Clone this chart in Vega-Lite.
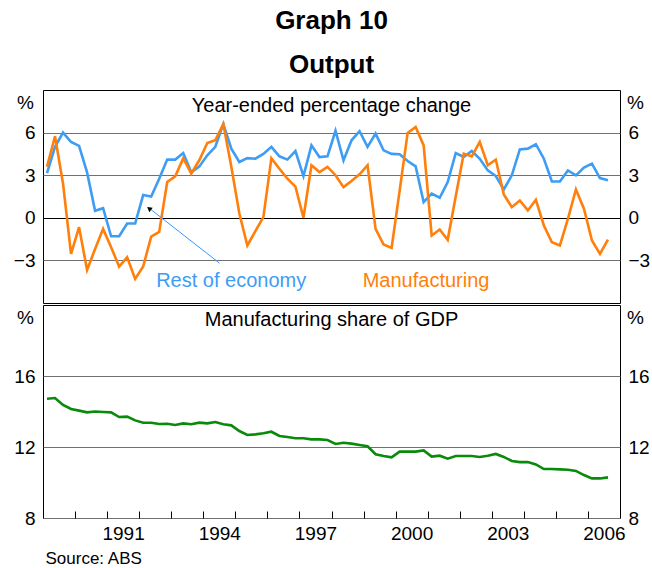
{
  "$schema": "https://vega.github.io/schema/vega-lite/v6.json",
  "padding": {"left": 12, "top": 7, "right": 5, "bottom": 0},
  "background": "white",
  "title": {
    "text": ["Graph 10", "Output"],
    "fontSize": 26,
    "fontWeight": "bold",
    "font": "Liberation Sans",
    "color": "black",
    "lineHeight": 44,
    "anchor": "middle",
    "offset": 12
  },
  "datasets": {
    "quarters": [
      {"date": 1989.125, "rest": 3.15, "manu": 3.6, "share": 14.72},
      {"date": 1989.375, "rest": 5.0, "manu": 5.74, "share": 14.76},
      {"date": 1989.625, "rest": 6.0, "manu": 2.4, "share": 14.37},
      {"date": 1989.875, "rest": 5.34, "manu": -2.54, "share": 14.14},
      {"date": 1990.125, "rest": 5.06, "manu": -0.66, "share": 14.05},
      {"date": 1990.375, "rest": 3.2, "manu": -3.67, "share": 13.95},
      {"date": 1990.625, "rest": 0.5, "manu": -2.2, "share": 14.0},
      {"date": 1990.875, "rest": 0.68, "manu": -0.78, "share": 13.97},
      {"date": 1991.125, "rest": -1.3, "manu": -2.07, "share": 13.95},
      {"date": 1991.375, "rest": -1.3, "manu": -3.43, "share": 13.69},
      {"date": 1991.625, "rest": -0.4, "manu": -2.78, "share": 13.71},
      {"date": 1991.875, "rest": -0.4, "manu": -4.3, "share": 13.5},
      {"date": 1992.125, "rest": 1.6, "manu": -3.43, "share": 13.37},
      {"date": 1992.375, "rest": 1.5, "manu": -1.32, "share": 13.37},
      {"date": 1992.625, "rest": 2.75, "manu": -1.0, "share": 13.3},
      {"date": 1992.875, "rest": 4.1, "manu": 2.52, "share": 13.31},
      {"date": 1993.125, "rest": 4.1, "manu": 2.92, "share": 13.24},
      {"date": 1993.375, "rest": 4.56, "manu": 4.2, "share": 13.33},
      {"date": 1993.625, "rest": 3.2, "manu": 3.12, "share": 13.28},
      {"date": 1993.875, "rest": 3.6, "manu": 4.05, "share": 13.37},
      {"date": 1994.125, "rest": 4.4, "manu": 5.27, "share": 13.33},
      {"date": 1994.375, "rest": 5.0, "manu": 5.46, "share": 13.41},
      {"date": 1994.625, "rest": 6.6, "manu": 6.6, "share": 13.28},
      {"date": 1994.875, "rest": 4.87, "manu": 3.6, "share": 13.22},
      {"date": 1995.125, "rest": 3.93, "manu": 0.3, "share": 12.9},
      {"date": 1995.375, "rest": 4.2, "manu": -1.95, "share": 12.68},
      {"date": 1995.625, "rest": 4.16, "manu": -0.94, "share": 12.71},
      {"date": 1995.875, "rest": 4.5, "manu": 0.05, "share": 12.77},
      {"date": 1996.125, "rest": 5.0, "manu": 4.2, "share": 12.86},
      {"date": 1996.375, "rest": 4.33, "manu": 3.46, "share": 12.62},
      {"date": 1996.625, "rest": 4.1, "manu": 2.75, "share": 12.56},
      {"date": 1996.875, "rest": 4.7, "manu": 2.2, "share": 12.49},
      {"date": 1997.125, "rest": 2.94, "manu": 0.0, "share": 12.49},
      {"date": 1997.375, "rest": 5.1, "manu": 3.7, "share": 12.43},
      {"date": 1997.625, "rest": 4.28, "manu": 3.22, "share": 12.43},
      {"date": 1997.875, "rest": 4.33, "manu": 3.58, "share": 12.39},
      {"date": 1998.125, "rest": 6.13, "manu": 3.0, "share": 12.17},
      {"date": 1998.375, "rest": 4.05, "manu": 2.16, "share": 12.24},
      {"date": 1998.625, "rest": 5.46, "manu": 2.59, "share": 12.19},
      {"date": 1998.875, "rest": 6.1, "manu": 3.06, "share": 12.11},
      {"date": 1999.125, "rest": 5.0, "manu": 3.7, "share": 12.04},
      {"date": 1999.375, "rest": 5.93, "manu": -0.78, "share": 11.59},
      {"date": 1999.625, "rest": 4.75, "manu": -1.88, "share": 11.49},
      {"date": 1999.875, "rest": 4.5, "manu": -2.12, "share": 11.42},
      {"date": 2000.125, "rest": 4.47, "manu": 1.9, "share": 11.74},
      {"date": 2000.375, "rest": 4.0, "manu": 5.98, "share": 11.74},
      {"date": 2000.625, "rest": 3.62, "manu": 6.4, "share": 11.74},
      {"date": 2000.875, "rest": 1.1, "manu": 5.1, "share": 11.81},
      {"date": 2001.125, "rest": 1.7, "manu": -1.25, "share": 11.46},
      {"date": 2001.375, "rest": 1.41, "manu": -0.82, "share": 11.51},
      {"date": 2001.625, "rest": 2.52, "manu": -1.55, "share": 11.34},
      {"date": 2001.875, "rest": 4.56, "manu": 1.5, "share": 11.49},
      {"date": 2002.125, "rest": 4.28, "manu": 4.52, "share": 11.49},
      {"date": 2002.375, "rest": 4.7, "manu": 4.33, "share": 11.49},
      {"date": 2002.625, "rest": 4.15, "manu": 5.34, "share": 11.44},
      {"date": 2002.875, "rest": 3.34, "manu": 3.7, "share": 11.51},
      {"date": 2003.125, "rest": 2.94, "manu": 4.1, "share": 11.61},
      {"date": 2003.375, "rest": 2.0, "manu": 1.65, "share": 11.44},
      {"date": 2003.625, "rest": 2.99, "manu": 0.75, "share": 11.21},
      {"date": 2003.875, "rest": 4.82, "manu": 1.22, "share": 11.15},
      {"date": 2004.125, "rest": 4.87, "manu": 0.52, "share": 11.15},
      {"date": 2004.375, "rest": 5.18, "manu": 1.27, "share": 11.02},
      {"date": 2004.625, "rest": 4.16, "manu": -0.54, "share": 10.76},
      {"date": 2004.875, "rest": 2.56, "manu": -1.72, "share": 10.76},
      {"date": 2005.125, "rest": 2.56, "manu": -1.95, "share": 10.74},
      {"date": 2005.375, "rest": 3.34, "manu": -0.07, "share": 10.72},
      {"date": 2005.625, "rest": 2.99, "manu": 2.0, "share": 10.65},
      {"date": 2005.875, "rest": 3.53, "manu": 0.64, "share": 10.42},
      {"date": 2006.125, "rest": 3.81, "manu": -1.6, "share": 10.23},
      {"date": 2006.375, "rest": 2.8, "manu": -2.54, "share": 10.23},
      {"date": 2006.625, "rest": 2.64, "manu": -1.53, "share": 10.29}
    ],
    "notes": [
      {"label": "Rest of economy", "date": 1994.87, "value": -4.85},
      {"label": "Manufacturing", "date": 2000.95, "value": -4.85}
    ],
    "arrow": [
      {"date": 1994.507, "value": -3.197, "date2": 1992.274, "value2": 0.746, "headDate": 1992.33, "headValue": 0.62}
    ]
  },
  "vconcat": [
    {
      "width": 577,
      "height": 213,
      "title": {
        "text": "Year-ended percentage change",
        "fontSize": 20,
        "fontWeight": "normal",
        "font": "Liberation Sans",
        "color": "black",
        "baseline": "alphabetic",
        "anchor": "middle",
        "frame": "group",
        "offset": -42
      },
      "layer": [
        {
          "data": {"name": "quarters"},
          "mark": {"type": "line", "color": "#3d9df5", "strokeWidth": 2.6},
          "encoding": {
            "x": {"field": "date", "type": "quantitative", "scale": {"domain": [1989, 2007], "nice": false, "zero": false}, "axis": null},
            "y": {
              "field": "rest", "type": "quantitative",
              "scale": {"domain": [-6, 9], "nice": false, "zero": false},
              "axis": {
                "orient": "left", "values": [-3, 0, 3, 6], "title": "%",
                "grid": true,
                "gridColor": {"condition": {"test": "datum.value === 0", "value": "black"}, "value": "#707070"},
                "ticks": false, "domain": false, "labelPadding": 8,
                "titleAngle": 0, "titleX": -18, "titleY": 12, "titleAlign": "center", "titleBaseline": "middle"
              }
            }
          }
        },
        {
          "data": {"name": "quarters"},
          "mark": {"type": "line", "color": "#ff7f0a", "strokeWidth": 2.6},
          "encoding": {
            "x": {"field": "date", "type": "quantitative", "scale": {"domain": [1989, 2007], "nice": false, "zero": false}, "axis": null},
            "y": {
              "field": "manu", "type": "quantitative",
              "scale": {"domain": [-6, 9], "nice": false, "zero": false},
              "axis": {
                "orient": "right", "values": [-3, 0, 3, 6], "title": "%",
                "grid": false, "ticks": false, "domain": false, "labelPadding": 8,
                "titleAngle": 0, "titleX": 15, "titleY": 12, "titleAlign": "center", "titleBaseline": "middle"
              }
            }
          }
        },
        {
          "data": {"name": "arrow"},
          "mark": {"type": "rule", "color": "#3399ff", "strokeWidth": 1},
          "encoding": {
            "x": {"field": "date", "type": "quantitative", "scale": {"domain": [1989, 2007], "nice": false, "zero": false}, "axis": null},
            "y": {"field": "value", "type": "quantitative", "scale": {"domain": [-6, 9], "nice": false, "zero": false}, "axis": null},
            "x2": {"field": "date2"},
            "y2": {"field": "value2"}
          }
        },
        {
          "data": {"name": "arrow"},
          "mark": {"type": "point", "shape": "triangle", "filled": true, "color": "black", "size": 30, "angle": 308, "opacity": 1},
          "encoding": {
            "x": {"field": "headDate", "type": "quantitative", "scale": {"domain": [1989, 2007], "nice": false, "zero": false}, "axis": null},
            "y": {"field": "headValue", "type": "quantitative", "scale": {"domain": [-6, 9], "nice": false, "zero": false}, "axis": null}
          }
        },
        {
          "data": {"name": "notes"},
          "mark": {"type": "text", "fontSize": 20, "font": "Liberation Sans", "align": "center", "baseline": "alphabetic"},
          "encoding": {
            "x": {"field": "date", "type": "quantitative", "scale": {"domain": [1989, 2007], "nice": false, "zero": false}, "axis": null},
            "y": {"field": "value", "type": "quantitative", "scale": {"domain": [-6, 9], "nice": false, "zero": false}, "axis": null},
            "text": {"field": "label"},
            "color": {"field": "label", "type": "nominal", "scale": {"domain": ["Rest of economy", "Manufacturing"], "range": ["#3d9df5", "#ff7f0a"]}, "legend": null}
          }
        }
      ],
      "resolve": {"axis": {"y": "independent"}}
    },
    {
      "width": 577,
      "height": 213,
      "title": {
        "text": "Manufacturing share of GDP",
        "fontSize": 20,
        "fontWeight": "normal",
        "font": "Liberation Sans",
        "color": "black",
        "baseline": "alphabetic",
        "anchor": "middle",
        "frame": "group",
        "offset": -41
      },
      "layer": [
        {
          "data": {"name": "quarters"},
          "mark": {"type": "line", "color": "#0a8a0a", "strokeWidth": 2.6},
          "encoding": {
            "x": {
              "field": "date", "type": "quantitative",
              "scale": {"domain": [1989, 2007], "nice": false, "zero": false},
              "axis": {
                "values": [1990, 1991, 1992, 1993, 1994, 1995, 1996, 1997, 1998, 1999, 2000, 2001, 2002, 2003, 2004, 2005, 2006],
                "format": "d",
                "labelExpr": "datum.value % 3 == 2 ? datum.label : ''",
                "labelOffset": 16, "labelOverlap": false, "labelFlush": false,
                "ticks": true, "tickSize": -7, "tickColor": "black", "domain": false, "grid": false,
                "labelPadding": 13,
                "title": "Source: ABS", "titleFontSize": 17, "titleFontWeight": "normal",
                "titleAnchor": "start", "titleAlign": "left", "titleX": 2, "titleY": 45, "titleBaseline": "alphabetic"
              }
            },
            "y": {
              "field": "share", "type": "quantitative",
              "scale": {"domain": [8, 20], "nice": false, "zero": false},
              "axis": {
                "orient": "left", "values": [8, 12, 16], "title": "%",
                "grid": true, "gridColor": "#707070",
                "ticks": false, "domain": false, "labelPadding": 8,
                "titleAngle": 0, "titleX": -18, "titleY": 12, "titleAlign": "center", "titleBaseline": "middle"
              }
            }
          }
        },
        {
          "data": {"name": "quarters"},
          "mark": {"type": "line", "color": "#0a8a0a", "strokeWidth": 2.6, "opacity": 0},
          "encoding": {
            "x": {
              "field": "date", "type": "quantitative",
              "scale": {"domain": [1989, 2007], "nice": false, "zero": false},
              "axis": {
                "values": [1990, 1991, 1992, 1993, 1994, 1995, 1996, 1997, 1998, 1999, 2000, 2001, 2002, 2003, 2004, 2005, 2006],
                "format": "d",
                "labelExpr": "datum.value % 3 == 2 ? datum.label : ''",
                "labelOffset": 16, "labelOverlap": false, "labelFlush": false,
                "ticks": true, "tickSize": -7, "tickColor": "black", "domain": false, "grid": false,
                "labelPadding": 13,
                "title": "Source: ABS", "titleFontSize": 17, "titleFontWeight": "normal",
                "titleAnchor": "start", "titleAlign": "left", "titleX": 2, "titleY": 45, "titleBaseline": "alphabetic"
              }
            },
            "y": {
              "field": "share", "type": "quantitative",
              "scale": {"domain": [8, 20], "nice": false, "zero": false},
              "axis": {
                "orient": "right", "values": [8, 12, 16], "title": "%",
                "grid": false, "ticks": false, "domain": false, "labelPadding": 8,
                "titleAngle": 0, "titleX": 15, "titleY": 12, "titleAlign": "center", "titleBaseline": "middle"
              }
            }
          }
        }
      ],
      "resolve": {"axis": {"y": "independent"}}
    }
  ],
  "spacing": 0,
  "config": {
    "font": "Liberation Sans",
    "view": {"stroke": "black", "strokeWidth": 1},
    "axis": {
      "labelFont": "Liberation Sans", "labelFontSize": 19, "labelColor": "black",
      "titleFont": "Liberation Sans", "titleFontSize": 19, "titleFontWeight": "normal", "titleColor": "black",
      "gridWidth": 1
    }
  }
}
